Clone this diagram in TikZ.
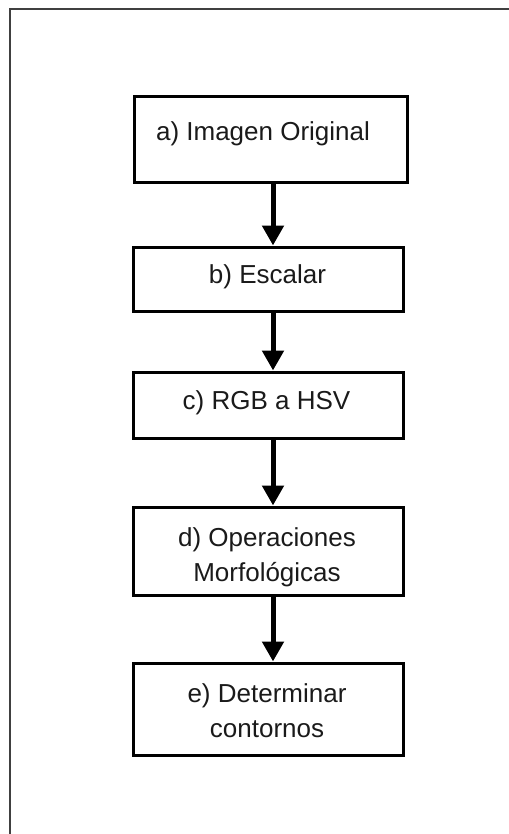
\documentclass[tikz,border=0pt]{standalone}
\usepackage{fontspec}
\setmainfont{Liberation Sans}
\usetikzlibrary{arrows.meta}
\definecolor{framegray}{HTML}{404040}
\definecolor{txt}{HTML}{1A1A1A}
\begin{document}
\begin{tikzpicture}[x=1pt,y=-1pt,
  stepbox/.style={draw=black,line width=3pt,rectangle,inner sep=0pt,minimum width=270pt},
  lbl/.style={anchor=base,inner sep=0pt,text=txt,font=\fontsize{26}{35}\selectfont,align=center},
  arr/.style={draw=black,line width=5pt,-{Triangle[length=20pt,width=21pt]}}]
\useasboundingbox (0,0) rectangle (508,834);
\draw[framegray,line width=2pt] (10,840) -- (10,9) -- (515,9);
% boxes
\node[stepbox,minimum width=273pt,minimum height=86pt] (a) at (270.5,140) {};
\node[stepbox,minimum height=64pt] (b) at (268,279) {};
\node[stepbox,minimum height=66pt] (c) at (268,405) {};
\node[stepbox,minimum height=88pt] (d) at (268,551) {};
\node[stepbox,minimum height=92pt] (e) at (268,709) {};
% labels
\node[lbl] (ta) at (263,141) {a) Imagen Original};
\node[lbl] (tb) at (267.5,283) {b) Escalar};
\node[lbl] (tc) at (266.5,409) {c) RGB a HSV};
\node[lbl] (td) at (267,581) {d) Operaciones\\Morfológicas};
\node[lbl] (te) at (267,737) {e) Determinar\\contornos};
% arrows
\draw[arr] ([xshift=2.5pt]a.south) -- ([xshift=5pt]b.north);
\draw[arr] ([xshift=5pt]b.south) -- ([xshift=5pt]c.north);
\draw[arr] ([xshift=5pt]c.south) -- ([xshift=5pt]d.north);
\draw[arr] ([xshift=5pt]d.south) -- ([xshift=5pt]e.north);
\end{tikzpicture}
\end{document}
